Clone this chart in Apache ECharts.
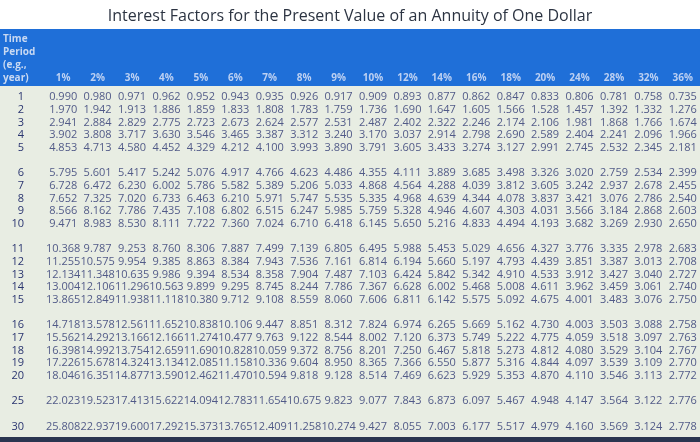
<!DOCTYPE html>
<html><head><meta charset="utf-8">
<script src="https://cdn.jsdelivr.net/npm/echarts@6/dist/echarts.min.js"></script>
<style>html,body{margin:0;padding:0;background:#fff}#c{width:700px;height:442px}</style>
</head><body><div id="c"></div>
<script>
const rates = ['1%','2%','3%','4%','5%','6%','7%','8%','9%','10%','12%','14%','16%','18%','20%','24%','28%','32%','36%'];
const years = ['1','2','3','4','5','','6','7','8','9','10',' ','11','12','13','14','15','  ','16','17','18','19','20','   ','25','    ','30'];
const r1 = [0.990,0.980,0.971,0.962,0.952,0.943,0.935,0.926,0.917,0.909,0.893,0.877,0.862,0.847,0.833,0.806,0.781,0.758,0.735];
const r2 = [1.970,1.942,1.913,1.886,1.859,1.833,1.808,1.783,1.759,1.736,1.690,1.647,1.605,1.566,1.528,1.457,1.392,1.332,1.276];
const r3 = [2.941,2.884,2.829,2.775,2.723,2.673,2.624,2.577,2.531,2.487,2.402,2.322,2.246,2.174,2.106,1.981,1.868,1.766,1.674];
const r4 = [3.902,3.808,3.717,3.630,3.546,3.465,3.387,3.312,3.240,3.170,3.037,2.914,2.798,2.690,2.589,2.404,2.241,2.096,1.966];
const r5 = [4.853,4.713,4.580,4.452,4.329,4.212,4.100,3.993,3.890,3.791,3.605,3.433,3.274,3.127,2.991,2.745,2.532,2.345,2.181];
const r6 = [5.795,5.601,5.417,5.242,5.076,4.917,4.766,4.623,4.486,4.355,4.111,3.889,3.685,3.498,3.326,3.020,2.759,2.534,2.399];
const r7 = [6.728,6.472,6.230,6.002,5.786,5.582,5.389,5.206,5.033,4.868,4.564,4.288,4.039,3.812,3.605,3.242,2.937,2.678,2.455];
const r8 = [7.652,7.325,7.020,6.733,6.463,6.210,5.971,5.747,5.535,5.335,4.968,4.639,4.344,4.078,3.837,3.421,3.076,2.786,2.540];
const r9 = [8.566,8.162,7.786,7.435,7.108,6.802,6.515,6.247,5.985,5.759,5.328,4.946,4.607,4.303,4.031,3.566,3.184,2.868,2.603];
const r10 = [9.471,8.983,8.530,8.111,7.722,7.360,7.024,6.710,6.418,6.145,5.650,5.216,4.833,4.494,4.193,3.682,3.269,2.930,2.650];
const r11 = [10.368,9.787,9.253,8.760,8.306,7.887,7.499,7.139,6.805,6.495,5.988,5.453,5.029,4.656,4.327,3.776,3.335,2.978,2.683];
const r12 = [11.255,10.575,9.954,9.385,8.863,8.384,7.943,7.536,7.161,6.814,6.194,5.660,5.197,4.793,4.439,3.851,3.387,3.013,2.708];
const r13 = [12.134,11.348,10.635,9.986,9.394,8.534,8.358,7.904,7.487,7.103,6.424,5.842,5.342,4.910,4.533,3.912,3.427,3.040,2.727];
const r14 = [13.004,12.106,11.296,10.563,9.899,9.295,8.745,8.244,7.786,7.367,6.628,6.002,5.468,5.008,4.611,3.962,3.459,3.061,2.740];
const r15 = [13.865,12.849,11.938,11.118,10.380,9.712,9.108,8.559,8.060,7.606,6.811,6.142,5.575,5.092,4.675,4.001,3.483,3.076,2.750];
const r16 = [14.718,13.578,12.561,11.652,10.838,10.106,9.447,8.851,8.312,7.824,6.974,6.265,5.669,5.162,4.730,4.003,3.503,3.088,2.758];
const r17 = [15.562,14.292,13.166,12.166,11.274,10.477,9.763,9.122,8.544,8.002,7.120,6.373,5.749,5.222,4.775,4.059,3.518,3.097,2.763];
const r18 = [16.398,14.992,13.754,12.659,11.690,10.828,10.059,9.372,8.756,8.201,7.250,6.467,5.818,5.273,4.812,4.080,3.529,3.104,2.767];
const r19 = [17.226,15.678,14.324,13.134,12.085,11.158,10.336,9.604,8.950,8.365,7.366,6.550,5.877,5.316,4.844,4.097,3.539,3.109,2.770];
const r20 = [18.046,16.351,14.877,13.590,12.462,11.470,10.594,9.818,9.128,8.514,7.469,6.623,5.929,5.353,4.870,4.110,3.546,3.113,2.772];
const r25 = [22.023,19.523,17.413,15.622,14.094,12.783,11.654,10.675,9.823,9.077,7.843,6.873,6.097,5.467,4.948,4.147,3.564,3.122,2.776];
const r30 = [25.808,22.937,19.600,17.292,15.373,13.765,12.409,11.258,10.274,9.427,8.055,7.003,6.177,5.517,4.979,4.160,3.569,3.124,2.778];

const rowsByYear = {'1':r1,'2':r2,'3':r3,'4':r4,'5':r5,'6':r6,'7':r7,'8':r8,'9':r9,'10':r10,'11':r11,'12':r12,'13':r13,'14':r14,'15':r15,'16':r16,'17':r17,'18':r18,'19':r19,'20':r20,'25':r25,'30':r30};
const cells = [];
years.forEach((y, yi) => {
  const row = rowsByYear[y];
  if (!row) return;
  row.forEach((v, xi) => cells.push([xi, yi, v]));
});

const chart = echarts.init(document.getElementById('c'));
chart.setOption({
  backgroundColor: '#e8ede3',
  animation: false,
  graphic: [
    {type:'rect', shape:{x:0,y:0,width:700,height:29}, style:{fill:'#ffffff'}, z:-10},
    {type:'rect', shape:{x:0,y:29,width:700,height:57}, style:{fill:'#1f6fd8'}, z:-10},
    {type:'rect', shape:{x:0,y:437,width:700,height:5}, style:{fill:'#2a3550'}, z:-10},
    {type:'text', left:3, top:33, style:{text:'Time\nPeriod\n(e.g.,\nyear)', fill:'#c9d9f2', font:'bold 10px "Open Sans"', lineHeight:13}}
  ],
  title: {text:'Interest Factors for the Present Value of an Annuity of One Dollar', left:'center', top:3,
    textStyle:{fontSize:16, fontWeight:'normal', color:'#2c3442', fontFamily:'Open Sans'}},
  grid: {left:46, right:-2, top:91, bottom:9},
  xAxis: {type:'category', data:rates, position:'top', axisLine:{show:false}, axisTick:{show:false}, splitLine:{show:false},
    axisLabel:{interval:0, color:'#bcd0f2', fontSize:10, fontWeight:'bold', margin:8, fontFamily:'Open Sans'}},
  yAxis: {type:'category', data:years, inverse:true, axisLine:{show:false}, axisTick:{show:false}, splitLine:{show:false},
    axisLabel:{interval:0, color:'#2a3570', fontSize:11, margin:22, align:'right', fontFamily:'Open Sans'}},
  series: [{type:'scatter', data:cells, symbolSize:1, itemStyle:{color:'rgba(0,0,0,0)'},
    label:{show:true, position:'inside', color:'#2a3570', fontSize:11, fontFamily:'Open Sans',
      formatter: p => p.value[2].toFixed(3)}}]
});
</script></body></html>
